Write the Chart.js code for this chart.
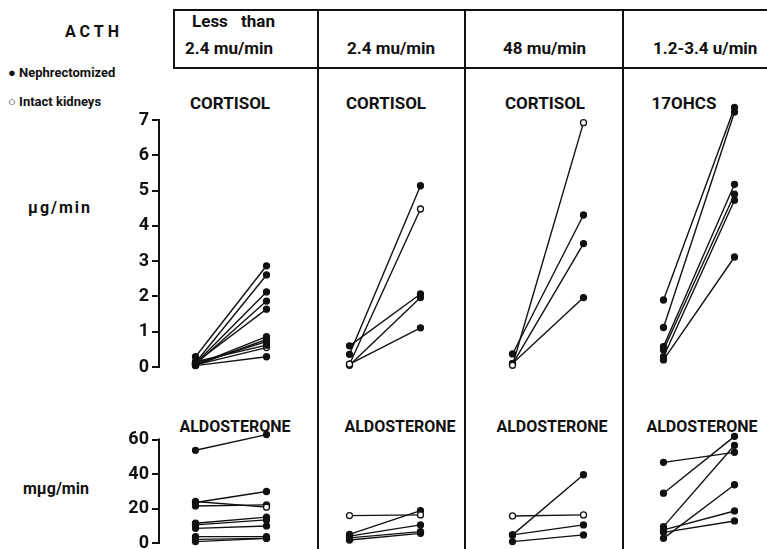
<!DOCTYPE html>
<html>
<head>
<meta charset="utf-8">
<script src="https://cdn.jsdelivr.net/npm/chart.js@4.4.1/dist/chart.umd.min.js"></script>
<style>
  body { margin: 0; width: 767px; height: 549px; overflow: hidden; background: #fff; position: relative;
         font-family: Roboto, 'Liberation Sans', sans-serif; font-weight: 700; color: #111; }
  .t { position: absolute; white-space: nowrap; line-height: 20px; }
  .c { transform: translateX(-50%); }
  .ln { position: absolute; background: #111; }
  canvas { position: absolute; }
</style>
</head>
<body>
<div class="t" style="left:65px;top:22px;font-size:16px;letter-spacing:4px">ACTH</div>
<div class="t" style="left:8px;top:63px;font-size:13px">● Nephrectomized</div>
<div class="t" style="left:8px;top:92px;font-size:13px">○ Intact kidneys</div>
<div class="t" style="left:28px;top:198px;font-size:16px;letter-spacing:2px">μg/min</div>
<div class="t" style="left:23px;top:479px;font-size:16px">mμg/min</div>

<div class="ln" style="left:174px;top:9px;width:593px;height:2px"></div>
<div class="ln" style="left:174px;top:67px;width:593px;height:2px"></div>
<div class="ln" style="left:173px;top:9px;width:2px;height:60px"></div>
<div class="ln" style="left:317px;top:9px;width:2px;height:540px"></div>
<div class="ln" style="left:464px;top:9px;width:2px;height:540px"></div>
<div class="ln" style="left:622px;top:9px;width:2px;height:540px"></div>

<div id="labels"></div>

<script>
// ACTH infusion groups (header row)
const doses = ['2.4 mu/min', '2.4 mu/min', '48 mu/min', '1.2-3.4 u/min'];
const cortisolTitles = ['CORTISOL', 'CORTISOL', 'CORTISOL', '17OHCS'];
const aldoTitles = ['ALDOSTERONE', 'ALDOSTERONE', 'ALDOSTERONE', 'ALDOSTERONE'];
const phases = ['control', 'ACTH'];

// tick labels
const cortisolTicks = [0, 1, 2, 3, 4, 5, 6, 7];
const aldoTicks = [0, 20, 40, 60];

// cortisol / 17OHCS, µg/min: value before and during ACTH, one entry per subject
const cort1Before = [0.29, 0.12, 0.10, 0.08, 0.12, 0.06, 0.05, 0.10, 0.15, 0.06, 0.04];
const cort1After  = [2.87, 2.61, 2.13, 1.87, 1.64, 0.86, 0.78, 0.72, 0.62, 0.55, 0.29];
const cort1Intact = [0, 0, 0, 0, 0, 0, 0, 0, 0, 1, 0];

const cort2Before = [0.36, 0.08, 0.60, 0.05, 0.08];
const cort2After  = [5.14, 4.48, 2.07, 1.97, 1.11];
const cort2Intact = [0, 1, 0, 0, 0];

const cort3Before = [0.05, 0.37, 0.08, 0.10];
const cort3After  = [6.93, 4.31, 3.50, 1.97];
const cort3Intact = [1, 0, 0, 0];

const cort4Before = [1.90, 1.12, 0.58, 0.48, 0.29, 0.20];
const cort4After  = [7.36, 7.23, 5.18, 4.90, 4.73, 3.12];
const cort4Intact = [0, 0, 0, 0, 0, 0];

// aldosterone, mµg/min
const aldo1Before = [53.8, 23.5, 24.1, 21.5, 11.5, 10.5, 8.5, 3.7, 2.1, 0.8];
const aldo1After  = [62.9, 29.9, 20.8, 22.1, 15.0, 13.4, 9.9, 3.7, 2.7, 2.7];
const aldo1Intact = [0, 0, 1, 0, 0, 0, 0, 0, 0, 0];

const aldo2Before = [15.9, 5.0, 4.0, 3.0, 1.7];
const aldo2After  = [16.3, 18.8, 10.5, 6.6, 5.6];
const aldo2Intact = [1, 0, 0, 0, 0];

const aldo3Before = [15.7, 4.7, 4.7, 0.8];
const aldo3After  = [16.3, 39.6, 10.5, 4.7];
const aldo3Intact = [1, 0, 0, 0];

const aldo4Before = [46.8, 28.9, 9.5, 7.6, 6.2, 2.7];
const aldo4After  = [52.6, 61.9, 56.7, 18.6, 12.8, 33.8];
const aldo4Intact = [0, 0, 0, 0, 0, 0];

// layout (pixels). rangeMax leaves room for points above the last tick
const panelLeft = [160, 314, 477, 628];
const plotW = 142, axisW = 44;
const rows = [
  { zeroY: 367, topTickY: 120, ticks: cortisolTicks, rangeMax: 7.6, pad: 20,
    sets: [[cort1Before, cort1After, cort1Intact], [cort2Before, cort2After, cort2Intact],
           [cort3Before, cort3After, cort3Intact], [cort4Before, cort4After, cort4Intact]] },
  { zeroY: 543, topTickY: 440, ticks: aldoTicks, rangeMax: 65, pad: 20,
    sets: [[aldo1Before, aldo1After, aldo1Intact], [aldo2Before, aldo2After, aldo2Intact],
           [aldo3Before, aldo3After, aldo3Intact], [aldo4Before, aldo4After, aldo4Intact]] }
];

const ink = '#111';
const font = 'Roboto, "Liberation Sans", sans-serif';

// axis spine only from 0 to the last labelled tick
const axisLine = {
  id: 'axisLine',
  afterDraw(chart, args, opts) {
    const y = chart.scales.y;
    if (!y.options.display) return;
    const ctx = chart.ctx;
    const x = chart.chartArea.left - 1;
    ctx.save();
    ctx.strokeStyle = ink;
    ctx.lineWidth = 2;
    ctx.beginPath();
    ctx.moveTo(x, y.getPixelForValue(0) + 1);
    ctx.lineTo(x, y.getPixelForValue(opts.max) - 1);
    ctx.stroke();
    ctx.restore();
  }
};

function addText(txt, x, y, size, center) {
  const d = document.createElement('div');
  d.className = 't' + (center ? ' c' : '');
  d.style.left = x + 'px';
  d.style.top = (y - 10) + 'px';
  d.style.fontSize = size + 'px';
  d.textContent = txt;
  document.getElementById('labels').appendChild(d);
  return d;
}

addText('Less than', 192, 21, 17, false).style.wordSpacing = '9px';
const doseLeft = [185, 347, 503, 653];
doses.forEach((d, i) => addText(d, doseLeft[i], 48, 17, false));
const titleX = [230, 386, 545, 684];
cortisolTitles.forEach((t, i) => addText(t, titleX[i], 103, 17, true));
const aldoX = [235, 400, 552, 702];
aldoTitles.forEach((t, i) => addText(t, aldoX[i], 427, 16, true));

rows.forEach(row => {
  const axisMax = row.ticks[row.ticks.length - 1];
  const pxPerUnit = (row.zeroY - row.topTickY) / axisMax;
  const areaTop = Math.round(row.zeroY - row.rangeMax * pxPerUnit);
  const areaH = row.zeroY - areaTop;
  row.sets.forEach(([before, after, intact], p) => {
    const showAxis = p === 0;
    const cv = document.createElement('canvas');
    cv.width = plotW + (showAxis ? axisW : 0);
    cv.height = areaH + row.pad * 2;
    cv.style.left = (panelLeft[p] - (showAxis ? axisW : 0)) + 'px';
    cv.style.top = (areaTop - row.pad) + 'px';
    document.body.appendChild(cv);

    const datasets = before.map((b, i) => ({
      data: [b, after[i]],
      borderColor: ink,
      borderWidth: 1.4,
      pointRadius: 3,
      pointBorderWidth: 1.3,
      pointBorderColor: ink,
      pointBackgroundColor: intact[i] ? '#fff' : ink,
      clip: false
    }));

    new Chart(cv, {
      type: 'line',
      data: { labels: phases, datasets },
      plugins: [axisLine],
      options: {
        responsive: false,
        animation: false,
        layout: { autoPadding: false, padding: { top: row.pad, bottom: row.pad, left: 0, right: 0 } },
        plugins: { legend: { display: false }, tooltip: { enabled: false }, axisLine: { max: axisMax } },
        scales: {
          x: { type: 'category', offset: true, display: false },
          y: {
            min: 0, max: row.rangeMax, display: showAxis,
            afterFit: s => { if (showAxis) s.width = axisW; },
            afterBuildTicks: s => { s.ticks = row.ticks.map(v => ({ value: v })); },
            ticks: { color: ink, padding: 3, font: { family: font, weight: 'bold', size: 18 } },
            grid: { drawOnChartArea: false, drawTicks: true, tickLength: 8, color: ink, lineWidth: 2 },
            border: { display: false }
          }
        }
      }
    });
  });
});
</script>
</body>
</html>
